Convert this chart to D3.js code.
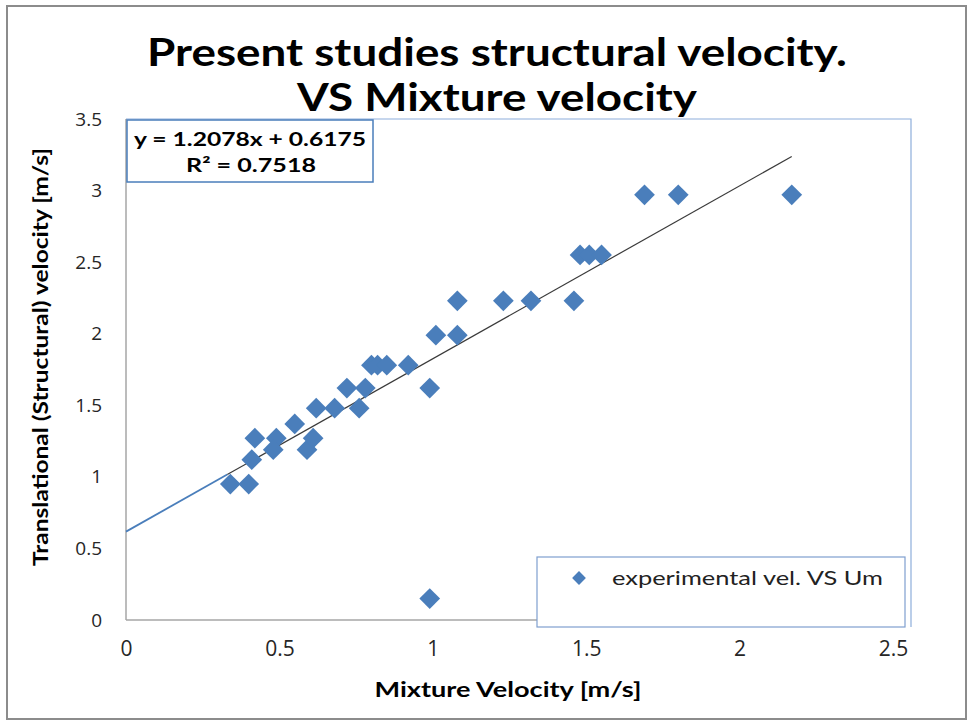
<!DOCTYPE html>
<html>
<head>
<meta charset="utf-8">
<script src="https://cdn.jsdelivr.net/npm/d3@7"></script>
<style>
  html, body { margin: 0; padding: 0; background: #fff; }
  svg { display: block; }
</style>
</head>
<body>
<svg id="chart" width="971" height="724"></svg>
<script>
// Measured mixture velocity (Um) and translational (structural) velocity, m/s
const mixtureVelocity = [0.34, 0.40, 0.41, 0.42, 0.49, 0.48, 0.55, 0.59, 0.61, 0.62,
  0.68, 0.76, 0.72, 0.78, 0.80, 0.82, 0.85, 0.92, 0.99, 1.01,
  1.08, 1.08, 1.23, 1.32, 1.46, 1.48, 1.51, 1.55, 1.69, 1.80,
  2.17, 0.99];
const structuralVelocity = [0.95, 0.95, 1.12, 1.27, 1.27, 1.19, 1.37, 1.19, 1.27, 1.48,
  1.48, 1.48, 1.62, 1.62, 1.78, 1.78, 1.78, 1.78, 1.62, 1.99,
  1.99, 2.23, 2.23, 2.23, 2.23, 2.55, 2.55, 2.55, 2.97, 2.97,
  2.97, 0.15];

// Linear trendline fitted to the series
const trendSlope = [1.2078];
const trendIntercept = [0.6175];
const trendR2 = [0.7518];

const xTicks = [0, 0.5, 1, 1.5, 2, 2.5];
const yTicks = [0, 0.5, 1, 1.5, 2, 2.5, 3, 3.5];

const titleLines = ["Present studies structural velocity.", "VS Mixture velocity"];
const xTitle = "Mixture Velocity [m/s]";
const yTitle = "Translational (Structural) velocity [m/s]";
const seriesName = "experimental vel. VS Um";

const blue = "#4a7ebb";
const svg = d3.select("#chart");

const plot = { left: 126, right: 893, top: 119, bottom: 620 };

const x = d3.scaleLinear().domain([0, 2.5]).range([plot.left, plot.right]);
const y = d3.scaleLinear().domain([0, 3.5]).range([plot.bottom, plot.top]);

// Outer chart frame
svg.append("rect")
  .attr("x", 7).attr("y", 6).attr("width", 959).attr("height", 713)
  .attr("fill", "none").attr("stroke", "#8c8c8c").attr("stroke-width", 2);

// Title
const titleFont = "Lato, 'Open Sans', sans-serif";
svg.append("text")
  .attr("x", 497).attr("y", 66)
  .attr("text-anchor", "middle")
  .attr("font-family", titleFont).attr("font-weight", "bold")
  .attr("font-size", 39)
  .attr("textLength", 700).attr("lengthAdjust", "spacingAndGlyphs")
  .attr("fill", "#000")
  .text(titleLines[0]);
svg.append("text")
  .attr("x", 497).attr("y", 111)
  .attr("text-anchor", "middle")
  .attr("font-family", titleFont).attr("font-weight", "bold")
  .attr("font-size", 39)
  .attr("textLength", 400).attr("lengthAdjust", "spacingAndGlyphs")
  .attr("fill", "#000")
  .text(titleLines[1]);

// Plot area outline: top and right edges (extends a little past the last x tick)
svg.append("path")
  .attr("d", `M${plot.left},${plot.top}H911V627`)
  .attr("fill", "none").attr("stroke", "#8eaedb").attr("stroke-width", 1.2);

// Axis lines
svg.append("line")
  .attr("x1", plot.left).attr("x2", 905)
  .attr("y1", plot.bottom).attr("y2", plot.bottom)
  .attr("stroke", "#a6a6a6").attr("stroke-width", 1.5);
svg.append("line")
  .attr("x1", plot.left).attr("x2", plot.left)
  .attr("y1", plot.top).attr("y2", plot.bottom)
  .attr("stroke", "#a6a6a6").attr("stroke-width", 1.5);

// Axes (labels only, spreadsheet style)
const tickFont = "'Liberation Sans Narrow', 'Open Sans', sans-serif";
const xAxis = svg.append("g")
  .attr("transform", `translate(0,${plot.bottom})`)
  .call(d3.axisBottom(x).tickValues(xTicks).tickSize(0).tickPadding(21)
    .tickFormat(d3.format("")));
xAxis.select(".domain").remove();
xAxis.selectAll("text")
  .attr("font-family", tickFont).attr("font-size", 21).attr("fill", "#262626");

const yAxis = svg.append("g")
  .attr("transform", `translate(${plot.left},0)`)
  .call(d3.axisLeft(y).tickValues(yTicks).tickSize(0).tickPadding(24)
    .tickFormat(d3.format("")));
yAxis.select(".domain").remove();
yAxis.selectAll("text")
  .attr("font-family", "'Open Sans', sans-serif").attr("font-size", 19).attr("fill", "#262626");

// Axis titles
svg.append("text")
  .attr("x", 508).attr("y", 697)
  .attr("text-anchor", "middle")
  .attr("font-family", titleFont).attr("font-weight", "bold").attr("font-size", 21)
  .attr("textLength", 267).attr("lengthAdjust", "spacingAndGlyphs")
  .text(xTitle);
svg.append("text")
  .attr("transform", "translate(48,357) rotate(-90)")
  .attr("text-anchor", "middle")
  .attr("font-family", titleFont).attr("font-weight", "bold").attr("font-size", 21)
  .attr("textLength", 418).attr("lengthAdjust", "spacingAndGlyphs")
  .text(yTitle);

// Trendline across the observed x range
const xMax = d3.max(mixtureVelocity);
const trendAt = v => trendSlope[0] * v + trendIntercept[0];
const xSplit = 0.33;
svg.append("line")
  .attr("x1", x(xSplit)).attr("y1", y(trendAt(xSplit)))
  .attr("x2", x(xMax)).attr("y2", y(trendAt(xMax)))
  .attr("stroke", "#3a3a3a").attr("stroke-width", 1.2);
svg.append("line")
  .attr("x1", x(0)).attr("y1", y(trendAt(0)))
  .attr("x2", x(xSplit)).attr("y2", y(trendAt(xSplit)))
  .attr("stroke", blue).attr("stroke-width", 1.8);

// Data points as diamonds
const diamond = d3.symbol().type(d3.symbolSquare).size(215);
svg.append("g").selectAll("path")
  .data(mixtureVelocity.map((v, i) => [v, structuralVelocity[i]]))
  .join("path")
  .attr("d", diamond)
  .attr("transform", d => `translate(${x(d[0])},${y(d[1])}) rotate(45)`)
  .attr("fill", blue);

// Trendline equation box
const eq = svg.append("g");
eq.append("rect")
  .attr("x", 127).attr("y", 120).attr("width", 246).attr("height", 62)
  .attr("fill", "#fff").attr("stroke", blue).attr("stroke-width", 1.5);
eq.append("text")
  .attr("x", 250).attr("y", 146)
  .attr("text-anchor", "middle")
  .attr("font-family", titleFont).attr("font-weight", "bold").attr("font-size", 19)
  .attr("textLength", 232).attr("lengthAdjust", "spacingAndGlyphs")
  .text(`y = ${trendSlope[0]}x + ${trendIntercept[0]}`);
eq.append("text")
  .attr("x", 251).attr("y", 172)
  .attr("text-anchor", "middle")
  .attr("font-family", titleFont).attr("font-weight", "bold").attr("font-size", 19)
  .attr("textLength", 130).attr("lengthAdjust", "spacingAndGlyphs")
  .text(`R² = ${trendR2[0]}`);

// Legend
const lg = svg.append("g");
lg.append("rect")
  .attr("x", 537).attr("y", 557).attr("width", 368).attr("height", 70)
  .attr("fill", "#fff").attr("stroke", "#7f9fcf").attr("stroke-width", 1.2);
lg.append("path")
  .attr("d", d3.symbol().type(d3.symbolSquare).size(95))
  .attr("transform", "translate(579,578) rotate(45)")
  .attr("fill", blue);
lg.append("text")
  .attr("x", 612).attr("y", 585)
  .attr("font-family", titleFont).attr("font-size", 20).attr("fill", "#222")
  .attr("textLength", 271).attr("lengthAdjust", "spacingAndGlyphs")
  .text(seriesName);
</script>
</body>
</html>
